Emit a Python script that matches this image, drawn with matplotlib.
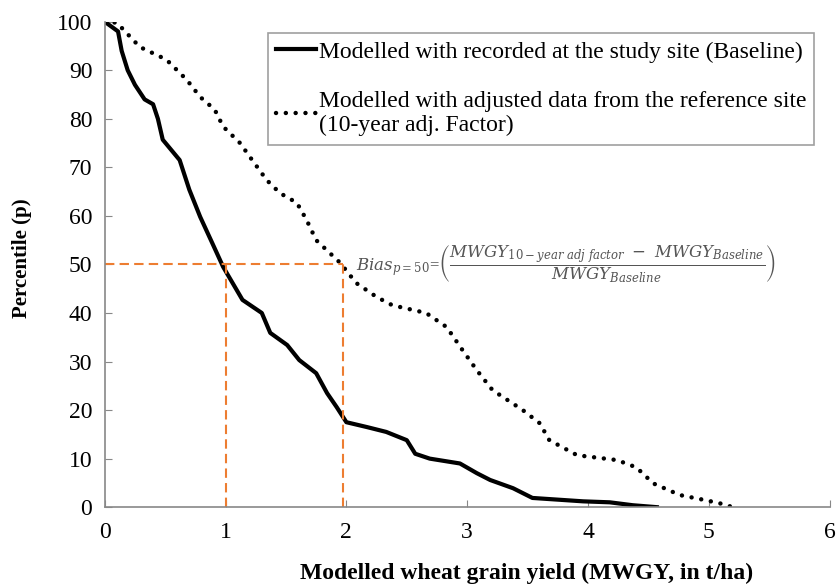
import matplotlib
matplotlib.use("Agg")
import matplotlib.pyplot as plt

plt.rcParams['font.family'] = ['Liberation Serif', 'DejaVu Serif']
plt.rcParams['mathtext.fontset'] = 'dejavuserif'

# Baseline (solid) curve: yield (t/ha) vs percentile
base_x = [0.0, 0.11, 0.14, 0.19, 0.25, 0.33, 0.40, 0.44, 0.48, 0.62, 0.70, 0.79, 0.89, 0.98,
          1.14, 1.30, 1.37, 1.51, 1.61, 1.75, 1.84, 1.92, 2.0, 2.17, 2.33, 2.44, 2.50, 2.57,
          2.69, 2.94, 3.08, 3.19, 3.38, 3.54, 3.96, 4.18, 4.37, 4.57]
base_p = [100, 98, 94, 90, 87, 84, 83, 80, 75.7, 71.5, 65.4, 59.8, 54.4, 49.5,
          42.7, 40, 35.9, 33.4, 30.3, 27.6, 23.5, 20.6, 17.5, 16.5, 15.5, 14.4, 13.8, 11,
          10, 9, 7.0, 5.6, 3.9, 1.9, 1.2, 1.0, 0.4, 0]

# Adjusted (dotted) curve
adj_x = [0.0, 0.1, 0.29, 0.51, 0.68, 0.79, 0.91, 0.98, 1.12, 1.2, 1.34, 1.45, 1.59, 1.67, 1.75,
         1.95, 2.08, 2.25, 2.38, 2.66, 2.83, 2.96, 3.08, 3.21, 3.46, 3.60, 3.68, 3.91, 4.24,
         4.40, 4.54, 4.76, 4.98, 5.09, 5.2]
adj_p = [100, 99.8, 94.8, 92.2, 88, 84.5, 81.9, 78.4, 75, 72.2, 67.4, 64.7, 62.7, 59.2, 55,
         50.3, 46.2, 43.3, 41.6, 40, 37.1, 32.4, 28.2, 24.1, 20, 17.3, 13.8, 10.7, 9.7,
         8.2, 4.9, 2.5, 1.4, 0.8, 0]

median_base = 1.0
median_adj = 1.97
p_ref = 50

x_ticks = [0, 1, 2, 3, 4, 5, 6]
y_ticks = [0, 10, 20, 30, 40, 50, 60, 70, 80, 90, 100]

fig = plt.figure(figsize=(8.38, 5.87), dpi=100)
ax = fig.add_axes([0.125, 0.136, 0.865, 0.827])

ax.plot(base_x, base_p, color='black', lw=3.0, solid_joinstyle='round',
        label='Modelled with recorded at the study site (Baseline)')
ax.plot(adj_x, adj_p, color='black', lw=3.2, linestyle=(0, (0.01, 2.2)), dash_capstyle='round',
        label='Modelled with adjusted data from the reference site\n(10-year adj. Factor)')

orange = '#ED7D31'
dash = (0, (4.5, 2.5))
ax.plot([0, median_adj], [p_ref, p_ref], color=orange, lw=1.5, ls=dash)
ax.plot([median_base, median_base], [0, p_ref], color=orange, lw=1.5, ls=dash)
ax.plot([median_adj, median_adj], [0, p_ref], color=orange, lw=1.5, ls=dash)

ax.set_xlim(0, 6)
ax.set_ylim(0, 100)
ax.set_xticks(x_ticks)
ax.set_yticks(y_ticks)
ax.tick_params(direction='in', labelsize=17, length=5, color='#888888')
ax.tick_params(axis='y', pad=9)
ax.tick_params(axis='x', pad=11)
for s in ['top', 'right']:
    ax.spines[s].set_visible(False)
for s in ['left', 'bottom']:
    ax.spines[s].set_color('#888888')
    ax.spines[s].set_linewidth(1.2)

ax.set_xlabel('Modelled wheat grain yield (MWGY, in t/ha)', fontsize=17, fontweight='bold', va='top')
ax.xaxis.set_label_coords(0.582, -0.115)
ax.set_ylabel('Percentile (p)', fontsize=15, fontweight='bold')
ax.yaxis.set_label_coords(-0.1, 0.513)

ax.text(2.08, 50, r'$Bias_{p=50}$=$\left(\dfrac{MWGY_{10-year\ adj\ factor}\ -\ MWGY_{Baseline}}{MWGY_{Baseline}}\right)$',
        fontsize=12, color='#555555', va='center', ha='left')

leg = ax.legend(loc='upper right', bbox_to_anchor=(0.979, 0.977), fontsize=17, frameon=True,
                fancybox=False, edgecolor='#888888', handlelength=1.7, handletextpad=0.1,
                labelspacing=1.2, borderpad=0.35, borderaxespad=0)
leg.get_frame().set_linewidth(1.2)

fig.savefig('out.png', dpi=100)
